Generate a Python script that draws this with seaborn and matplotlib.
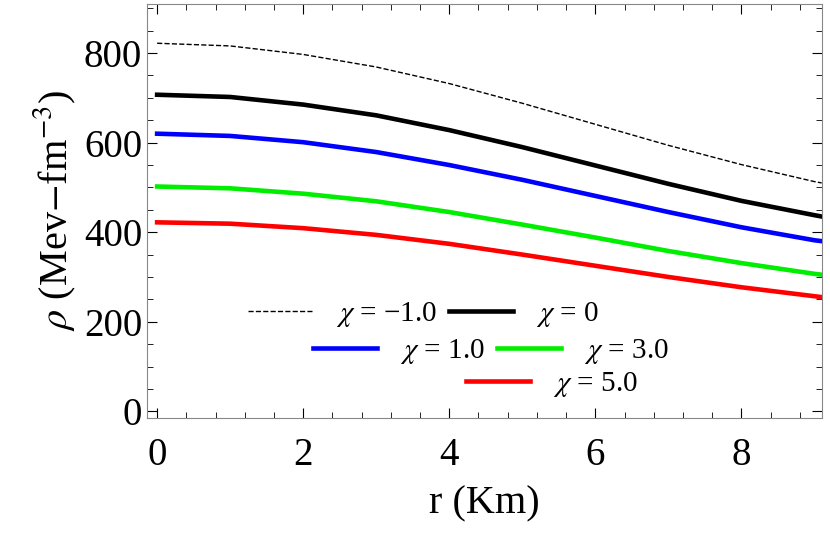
import matplotlib
matplotlib.use("Agg")
import matplotlib.pyplot as plt
import seaborn as sns
import pandas as pd
from matplotlib.ticker import AutoMinorLocator

r = [0, 1, 2, 3, 4, 5, 6, 7, 8, 9, 9.1]
rho_m1 = [822, 816, 797, 769, 732, 688, 641, 594, 551, 513, 510]
rho_0 = [707, 702, 685, 661, 628, 590, 549, 508, 470, 438, 435]
rho_1 = [620, 615, 601, 579, 550, 517, 481, 445, 411, 382, 380]
rho_3 = [502, 498, 486, 469, 445, 417, 388, 358, 331, 307, 305]
rho_5 = [422, 419, 409, 394, 374, 350, 325, 300, 277, 257, 255]
labels = [r"$\chi$ = −1.0", r"$\chi$ = 0", r"$\chi$ = 1.0", r"$\chi$ = 3.0", r"$\chi$ = 5.0"]

plt.rcParams["font.family"] = "Liberation Serif"
plt.rcParams["mathtext.fontset"] = "stix"
fig = plt.figure(figsize=(8.3, 5.5), dpi=100)
ax = fig.add_axes([0.177, 0.24, 0.813, 0.753])

styles = [("black", "--", 1.0), ("black", "-", 3.3), ("blue", "-", 3.3),
          ("#00ee00", "-", 3.3), ("red", "-", 3.3)]
lines = []
for ys, lab, (c, ls, lw) in zip([rho_m1, rho_0, rho_1, rho_3, rho_5], labels, styles):
    df = pd.DataFrame({"r": r, "rho": ys})
    sns.lineplot(data=df, x="r", y="rho", ax=ax, color=c, linestyle=ls, linewidth=lw)
    lines.append(ax.lines[-1])

ax.set_xlim(-0.14, 9.1)
ax.set_ylim(-15, 910)
ax.set_xticks([0, 2, 4, 6, 8])
ax.set_yticks([0, 200, 400, 600, 800])
ax.xaxis.set_minor_locator(AutoMinorLocator(5))
ax.yaxis.set_minor_locator(AutoMinorLocator(4))
ax.tick_params(which="both", direction="in", top=True, right=True, labelsize=28)
ax.tick_params(axis="x", pad=14)
ax.tick_params(which="major", length=7)
ax.tick_params(which="minor", length=4)
for s in ax.spines.values():
    s.set_color("#888888")
ax.set_xlabel("r (Km)", fontsize=29, labelpad=8)
ax.set_ylabel(r"$\rho$ (Mev$-$fm$^{-3}$)", fontsize=29, labelpad=4)

kw = dict(frameon=False, fontsize=21, handlelength=2.2, handletextpad=0.8, columnspacing=0.4)
l1 = ax.legend(lines[0:2], labels[0:2], ncol=2, loc="center", bbox_to_anchor=(0.41, 0.25), **kw)
ax.add_artist(l1)
l2 = ax.legend(lines[2:4], labels[2:4], ncol=2, loc="center", bbox_to_anchor=(0.51, 0.16), **kw)
ax.add_artist(l2)
ax.legend(lines[4:5], labels[4:5], loc="center", bbox_to_anchor=(0.60, 0.08), **kw)

fig.savefig("out.png", dpi=100)
